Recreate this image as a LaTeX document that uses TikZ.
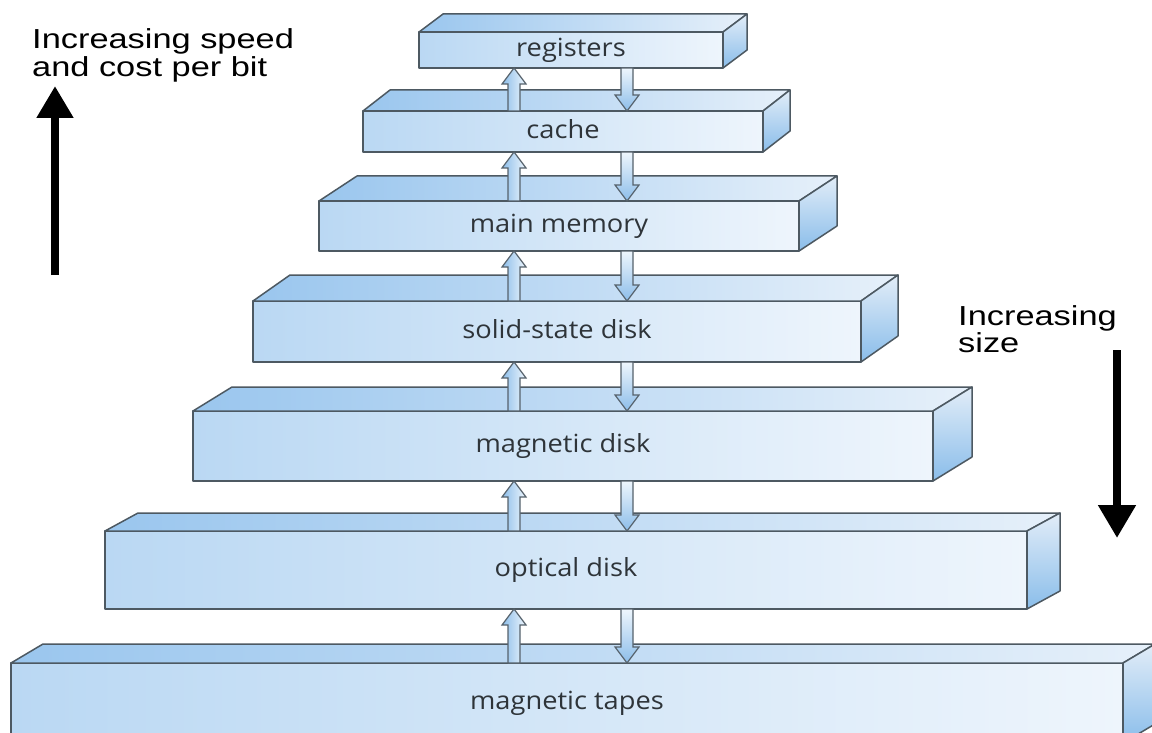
\documentclass[tikz,border=0pt]{standalone}
\usepackage{fontspec}
\setmainfont{Open Sans}
\newfontfamily\labelfont{Open Sans}[FakeStretch=1.09]
\newfontfamily\sidefont{Liberation Sans}[FakeStretch=1.25]
\usetikzlibrary{calc,arrows.meta}
\definecolor{edge}{HTML}{4D5962}
\definecolor{frontL}{HTML}{BAD8F3}
\definecolor{frontR}{HTML}{EEF5FC}
\definecolor{topL}{HTML}{9AC6EE}
\definecolor{topR}{HTML}{E6F0FA}
\definecolor{sideT}{HTML}{E2EDF8}
\definecolor{sideB}{HTML}{8ABDEA}
\definecolor{labeltext}{HTML}{2E3439}
\definecolor{arrowedge}{HTML}{56626C}
\definecolor{arrowblue}{HTML}{8CBDE9}
\definecolor{arrowlight}{HTML}{EEF6FD}
\tikzset{
  face/.style={draw=edge, line width=1.5pt, line join=round},
  frontface/.style={face, rectangle, inner sep=0pt, outer sep=0pt,
    left color=frontL, right color=frontR, text height=13.4pt, text depth=0pt,
    font=\labelfont\fontsize{25}{30}\selectfont, text=labeltext},
  topface/.style={face, left color=topL, right color=topR},
  sideface/.style={face, top color=sideT, bottom color=sideB},
  uparrowstyle/.style={draw=arrowedge, line width=1.2pt, line join=miter,
    left color=arrowblue, right color=arrowlight},
  downarrowstyle/.style={draw=arrowedge, line width=1.2pt, line join=miter,
    top color=arrowlight, bottom color=arrowblue},
  sidetext/.style={font=\sidefont\fontsize{27.5}{30}\selectfont, text=black,
    inner sep=0pt, anchor=base west},
  bigarrow/.style={line width=8pt, black}
}
% name, cx, cy, width, height, dx, dy, label
\newcommand\membox[8]{%
  \node[frontface, minimum width=#4pt, minimum height=#5pt] (#1) at (#2,#3) {#8};
  \path[topface] (#1.north west) -- ++(#6,-#7) -- ($(#1.north east)+(#6,-#7)$) -- (#1.north east) -- cycle;
  \path[sideface] (#1.north east) -- ++(#6,-#7) -- ($(#1.south east)+(#6,-#7)$) -- (#1.south east) -- cycle;
}
% style, from, to
\newcommand\blockarrow[3]{%
  \path[#1] let \p1=(#2), \p2=(#3), \n1={sign(\y2-\y1)} in
    (\x1-6pt,\y1) -- (\x1-6pt,\y2-\n1*16pt) -- (\x1-12pt,\y2-\n1*16pt) -- (\x2,\y2)
    -- (\x1+12pt,\y2-\n1*16pt) -- (\x1+6pt,\y2-\n1*16pt) -- (\x1+6pt,\y1) -- cycle;
}
\begin{document}
\begin{tikzpicture}[x=1pt, y=-1pt]
\useasboundingbox (0,0) rectangle (1152,733);
\clip (0,0) rectangle (1152,733);
\fill[white] (0,0) rectangle (1152,733);

\membox{tapes}{567}{703}{1112}{80}{32}{19}{magnetic tapes}
\membox{optical}{566}{570}{922}{78}{33}{18}{optical disk}
\membox{mdisk}{563}{446}{740}{70}{39}{24}{magnetic disk}
\membox{ssd}{557}{331.5}{608}{61}{37}{26}{solid-state disk}
\membox{mainmem}{559}{226}{480}{50}{38}{25}{main memory}
\membox{cache}{563}{131.5}{400}{41}{27}{21}{cache}
\membox{reg}{571}{50}{304}{36}{24}{18}{registers}

\coordinate (upx) at (514,0);
\coordinate (dnx) at (627,0);
\foreach \lo/\hi in {cache/reg, mainmem/cache, ssd/mainmem, mdisk/ssd, optical/mdisk, tapes/optical}{
  \blockarrow{uparrowstyle}{upx |- \lo.north}{upx |- \hi.south}
  \blockarrow{downarrowstyle}{dnx |- \hi.south}{dnx |- \lo.north}
}

\node[sidetext] (speed1) at (32,49) {Increasing speed};
\node[sidetext] (speed2) at (32,77) {and cost per bit};
\coordinate (lbot) at (55,275);
\coordinate (ltop) at (55,86);
\draw[bigarrow, -{Triangle[width=35pt,length=32pt]}] (lbot) -- (ltop);

\node[sidetext] (size1) at (958,325) {Increasing};
\node[sidetext] (size2) at (958,352) {size};
\coordinate (rtop) at (1117,350);
\coordinate (rbot) at (1117,538);
\draw[bigarrow, -{Triangle[width=36pt,length=33pt]}] (rtop) -- (rbot);
\end{tikzpicture}
\end{document}
